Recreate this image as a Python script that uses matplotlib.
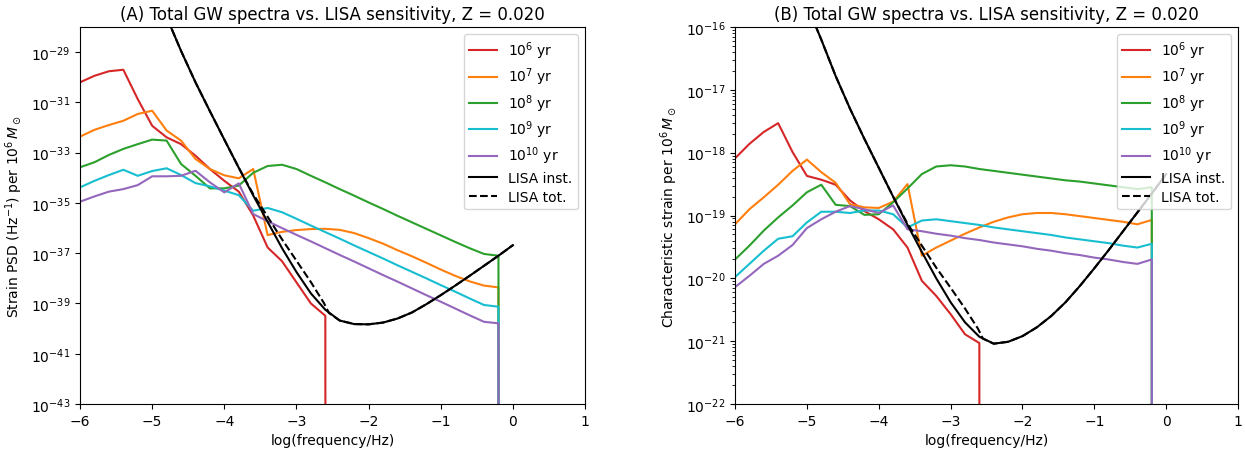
import numpy as np
import matplotlib
matplotlib.use("Agg")
import matplotlib.pyplot as plt
from matplotlib.ticker import NullLocator

# log10(frequency/Hz) grid of the population spectra
log_f = [-6.0, -5.8, -5.6, -5.4, -5.2, -5.0, -4.8, -4.6, -4.4, -4.2,
         -4.0, -3.8, -3.6, -3.4, -3.2, -3.0, -2.8, -2.6, -2.4, -2.2,
         -2.0, -1.8, -1.6, -1.4, -1.2, -1.0, -0.8, -0.6, -0.4, -0.2, 0.0]

ages = ["$10^{6}$ yr", "$10^{7}$ yr", "$10^{8}$ yr", "$10^{9}$ yr", "$10^{10}$ yr"]
colors = ["tab:red", "tab:orange", "tab:green", "tab:cyan", "tab:purple"]

# (A) log10 strain PSD per 1e6 Msun  (None -> spectrum is zero there)
psd_1e6 = [-30.20, -29.94, -29.76, -29.70, -30.87, -31.93, -32.39, -32.66, -33.12, -33.65,
           -34.12, -34.55, -35.50, -36.77, -37.32, -38.16, -39.00, -39.49, None, None,
           None, None, None, None, None, None, None, None, None, None, None]
psd_1e7 = [-32.36, -32.09, -31.90, -31.73, -31.46, -31.33, -32.12, -32.52, -33.25, -33.65,
           -33.90, -34.02, -33.65, -36.28, -36.15, -36.08, -36.04, -36.03, -36.07, -36.20,
           -36.40, -36.62, -36.88, -37.12, -37.38, -37.65, -37.90, -38.12, -38.29, -38.36, None]
psd_1e8 = [-33.58, -33.38, -33.09, -32.85, -32.66, -32.48, -32.52, -33.45, -33.92, -34.42,
           -34.42, -34.31, -33.80, -33.53, -33.48, -33.65, -33.92, -34.18, -34.45, -34.71,
           -34.98, -35.24, -35.51, -35.77, -36.03, -36.29, -36.55, -36.80, -37.03, -37.10, None]
psd_1e9 = [-34.38, -34.12, -33.89, -33.68, -33.92, -33.73, -33.62, -33.89, -34.21, -34.34,
           -34.51, -34.69, -35.31, -35.20, -35.37, -35.63, -35.90, -36.16, -36.42, -36.69,
           -36.95, -37.21, -37.48, -37.74, -38.00, -38.27, -38.53, -38.80, -39.06, -39.13, None]
psd_1e10 = [-34.95, -34.74, -34.55, -34.45, -34.29, -33.94, -33.94, -33.92, -33.72, -34.18,
            -34.58, -34.22, -35.44, -35.73, -36.00, -36.27, -36.53, -36.80, -37.07, -37.33,
            -37.60, -37.87, -38.13, -38.40, -38.67, -38.93, -39.20, -39.47, -39.73, -39.79, None]

# (B) log10 characteristic strain per 1e6 Msun
hc_1e6 = [-18.09, -17.86, -17.67, -17.53, -17.99, -18.37, -18.43, -18.51, -18.76, -18.93,
          -19.06, -19.22, -19.51, -20.04, -20.28, -20.57, -20.89, -21.03, None, None,
          None, None, None, None, None, None, None, None, None, None, None]
hc_1e7 = [-19.14, -18.90, -18.71, -18.51, -18.29, -18.11, -18.31, -18.48, -18.82, -18.87,
          -18.88, -18.78, -18.50, -19.64, -19.51, -19.40, -19.29, -19.19, -19.10, -19.03,
          -18.98, -18.96, -18.96, -18.98, -19.01, -19.04, -19.07, -19.10, -19.14, -19.07, None]
hc_1e8 = [-19.70, -19.48, -19.24, -19.03, -18.84, -18.63, -18.51, -18.83, -18.85, -18.99,
          -18.98, -18.79, -18.57, -18.34, -18.22, -18.20, -18.22, -18.26, -18.29, -18.32,
          -18.35, -18.38, -18.41, -18.44, -18.46, -18.49, -18.52, -18.55, -18.58, -18.55, None]
hc_1e9 = [-19.98, -19.77, -19.56, -19.37, -19.33, -19.11, -18.94, -18.94, -18.96, -18.92,
          -18.92, -18.98, -19.19, -19.08, -19.06, -19.09, -19.12, -19.15, -19.19, -19.22,
          -19.25, -19.28, -19.31, -19.35, -19.38, -19.41, -19.44, -19.48, -19.51, -19.45, None]
hc_1e10 = [-20.14, -19.96, -19.77, -19.64, -19.47, -19.20, -19.06, -18.94, -18.85, -18.90,
           -18.96, -18.84, -19.22, -19.25, -19.29, -19.32, -19.36, -19.39, -19.43, -19.46,
           -19.49, -19.53, -19.56, -19.60, -19.63, -19.67, -19.70, -19.74, -19.77, -19.70, None]

# LISA curves, log10 values
lisa_f = [-5.0, -4.8, -4.6, -4.4, -4.2, -4.0, -3.8, -3.6, -3.4, -3.2, -3.0, -2.8, -2.6,
          -2.4, -2.2, -2.0, -1.8, -1.6, -1.4, -1.2, -1.0, -0.8, -0.6, -0.4, -0.2, 0.0]
lisa_psd = [-26.30, -27.60, -28.95, -30.20, -31.35, -32.48, -33.60, -34.70, -35.75, -36.80,
            -37.75, -38.60, -39.25, -39.68, -39.82, -39.83, -39.76, -39.60, -39.36, -39.03,
            -38.67, -38.29, -37.90, -37.50, -37.10, -36.68]
lisa_hc = [-15.65, -16.20, -16.78, -17.30, -17.78, -18.24, -18.70, -19.15, -19.58, -20.00,
           -20.38, -20.70, -20.93, -21.04, -21.01, -20.92, -20.78, -20.60, -20.38, -20.12,
           -19.84, -19.55, -19.25, -18.95, -18.65, -18.34]

tot_f = [-5.0, -4.8, -4.6, -4.4, -4.2, -4.0, -3.8, -3.6, -3.4, -3.2, -3.0, -2.8, -2.62, -2.55,
         -2.4, -2.2, -2.0, -1.8, -1.6, -1.4, -1.2, -1.0, -0.8, -0.6, -0.4, -0.2, 0.0]
tot_psd = [-26.30, -27.60, -28.95, -30.20, -31.35, -32.48, -33.60, -34.65, -35.55, -36.45,
           -37.30, -38.15, -38.98, -39.38, -39.68, -39.82, -39.83, -39.76, -39.60, -39.36,
           -39.03, -38.67, -38.29, -37.90, -37.50, -37.10, -36.68]
tot_hc = [-15.65, -16.20, -16.78, -17.30, -17.78, -18.24, -18.70, -19.13, -19.48, -19.83,
          -20.15, -20.48, -20.80, -20.96, -21.04, -21.01, -20.92, -20.78, -20.60, -20.38,
          -20.12, -19.84, -19.55, -19.25, -18.95, -18.65, -18.34]


def to_lin(vals):
    # None means zero signal, log axis clips it to the bottom
    return np.array([0.0 if v is None else 10.0 ** v for v in vals])


fig = plt.figure(figsize=(12.45, 4.52), dpi=100)
axA = fig.add_axes([0.0643, 0.104, 0.4056, 0.834])
axB = fig.add_axes([0.5904, 0.104, 0.404, 0.834])

panels = [
    (axA, [psd_1e6, psd_1e7, psd_1e8, psd_1e9, psd_1e10], lisa_psd, tot_psd,
     "(A) Total GW spectra vs. LISA sensitivity, Z = 0.020",
     r"Strain PSD (Hz$^{-1}$) per $10^{6}\,M_\odot$", (1e-43, 1e-28)),
    (axB, [hc_1e6, hc_1e7, hc_1e8, hc_1e9, hc_1e10], lisa_hc, tot_hc,
     "(B) Total GW spectra vs. LISA sensitivity, Z = 0.020",
     r"Characteristic strain per $10^{6}\,M_\odot$", (1e-22, 1e-16)),
]

for ax, series, inst, tot, title, ylabel, ylim in panels:
    for vals, lab, col in zip(series, ages, colors):
        ax.plot(log_f, to_lin(vals), color=col, lw=1.5, label=lab)
    ax.plot(lisa_f, to_lin(inst), color="black", lw=1.5, label="LISA inst.")
    ax.plot(tot_f, to_lin(tot), color="black", lw=1.5, ls="--", label="LISA tot.")
    ax.set_yscale("log")
    ax.set_xlim(-6, 1)
    ax.set_ylim(*ylim)
    ax.set_title(title, fontsize=12)
    ax.set_xlabel("log(frequency/Hz)")
    ax.set_ylabel(ylabel)
    ax.legend(loc="upper right", labelspacing=0.34)

axA.set_yticks([10.0 ** e for e in range(-43, -28, 2)])
axA.yaxis.set_minor_locator(NullLocator())

fig.savefig("out.png", dpi=100)
